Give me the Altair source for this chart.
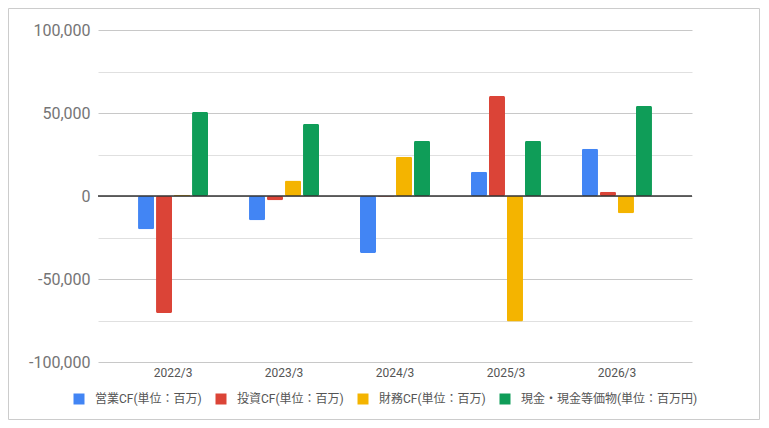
import altair as alt
import pandas as pd

categories = ["2022/3", "2023/3", "2024/3", "2025/3", "2026/3"]
series = [
    "営業CF(単位：百万)",
    "投資CF(単位：百万)",
    "財務CF(単位：百万)",
    "現金・現金等価物(単位：百万円)",
]
operating = [-20000, -14600, -34400, 14600, 28400]
investing = [-70500, -2600, -400, 60200, 2600]
financing = [700, 9400, 23600, -75600, -10400]
cash = [50600, 43400, 33200, 33200, 54200]
colors = ["#4285F4", "#DB4437", "#F4B400", "#0F9D58"]
y_ticks = [-100000, -87500, -75000, -62500, -50000, -37500, -25000, -12500, 0,
           12500, 25000, 37500, 50000, 62500, 75000, 87500, 100000]

rows = []
for name, vals in zip(series, [operating, investing, financing, cash]):
    for c, v in zip(categories, vals):
        rows.append({"year": c, "series": name, "value": v})
df = pd.DataFrame(rows)

FONT = "Roboto, 'Noto Sans CJK JP', sans-serif"
W, H = 594, 332
PL, PT, PR, PB = 90, 22, 69, 58

bars = alt.Chart(df).mark_bar(cornerRadius=1.5).encode(
    x=alt.X("year:N", sort=categories, title=None,
            scale=alt.Scale(paddingInner=0, paddingOuter=0.176),
            axis=alt.Axis(labelAngle=0, ticks=False, domain=False, grid=False,
                          labelFontSize=12, labelColor="#555555", labelPadding=5,
                          labelFont=FONT)),
    xOffset=alt.XOffset("series:N", sort=series,
                        scale=alt.Scale(range=[20.5, 90.5], paddingInner=0.111, paddingOuter=0)),
    y=alt.Y("value:Q", title=None,
            scale=alt.Scale(domain=[-100000, 100000], nice=False, zero=False),
            axis=alt.Axis(values=y_ticks, ticks=False, domain=False,
                          labelFontSize=16, labelColor="#757575", labelPadding=8,
                          labelFont=FONT,
                          labelExpr="datum.value % 50000 === 0 ? replace(format(datum.value, ','), '\u2212', '-') : ''",
                          gridColor={"condition": {"test": "datum.value % 50000 === 0", "value": "#c8c8c8"},
                                     "value": "#e0e0e0"},
                          gridWidth=1)),
    color=alt.Color("series:N", sort=series,
                    scale=alt.Scale(domain=series, range=colors),
                    legend=alt.Legend(title=None, orient="none", legendX=-25, legendY=363,
                                      direction="horizontal", columns=4,
                                      symbolType="square", symbolSize=121,
                                      symbolStrokeWidth=0, labelFontSize=12,
                                      labelFont=FONT, labelColor="#555555",
                                      labelLimit=400,
                                      labelOffset=10, columnPadding=13, padding=0)),
)

zero = alt.Chart(pd.DataFrame({"v": [0]})).mark_rule(color="#333333", strokeWidth=1.5).encode(
    y="v:Q"
)

border = alt.Chart(pd.DataFrame({"a": [0]})).mark_rect(
    filled=False, color="#cccccc", strokeWidth=1
).encode(
    x=alt.value(-PL + 0.5), x2=alt.value(W + PR - 1.5),
    y=alt.value(-PT + 0.5), y2=alt.value(H + PB - 0.5),
)

chart = alt.layer(border, bars, zero).properties(
    width=W, height=H,
    autosize=alt.AutoSizeParams(type="none"),
    padding={"left": PL, "top": PT, "right": PR, "bottom": PB},
    background="white",
).configure_view(stroke=None)

chart.save("out.html", embed_options={"renderer": "svg", "actions": False})
